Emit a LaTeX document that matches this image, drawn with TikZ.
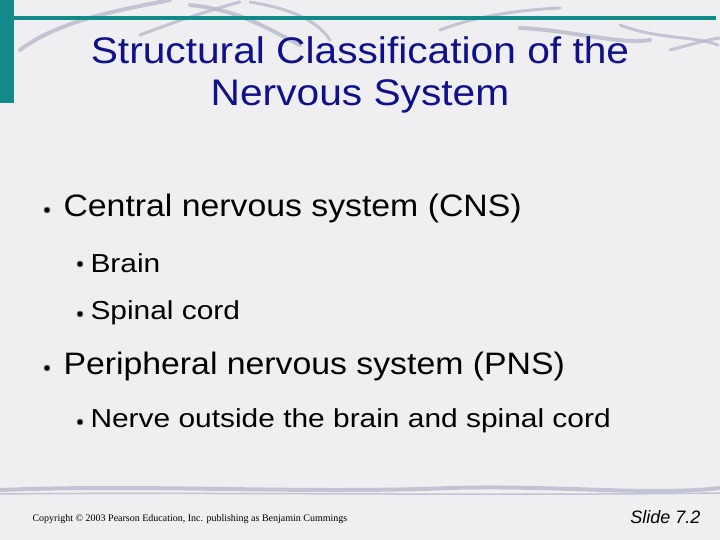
\documentclass[tikz,border=0pt]{standalone}
\usepackage{fontspec}
\setmainfont{Liberation Sans}
\newfontfamily\serifcr{Liberation Serif}
\definecolor{bg}{HTML}{EFEFF1}
\definecolor{teal}{HTML}{138A8A}
\definecolor{navy}{HTML}{10108A}
\definecolor{swoosh}{HTML}{B8BACC}
\newcommand{\wideA}[1]{\scalebox{1.09}[1]{#1}}
\newcommand{\wideB}[1]{\scalebox{1.15}[1]{#1}}
\tikzset{
  bul/.style={circle,fill=black,draw=gray,line width=0.8pt,inner sep=0pt,minimum size=6pt},
  lvl1/.style={anchor=west,font=\fontsize{31}{31}\selectfont},
  lvl2/.style={anchor=west,font=\fontsize{26}{26}\selectfont},
  ttl/.style={font=\fontsize{37}{37}\selectfont,text=navy}
}
\begin{document}
\begin{tikzpicture}[x=1pt,y=-1pt]
\fill[bg] (0,0) rectangle (720,540);
\useasboundingbox (0,0) rectangle (720,540);
% swooshes
\begin{scope}[swoosh,line cap=round,opacity=0.8]
\draw[line width=4] (20,50) .. controls (60,20) and (120,10) .. (170,0);
\draw[line width=3] (140,35) .. controls (180,20) and (210,10) .. (240,2);
\draw[line width=4] (190,5) .. controls (240,10) and (270,30) .. (300,45);
\draw[line width=3] (250,2) .. controls (300,10) and (320,25) .. (330,40);
\draw[line width=3] (440,30) .. controls (480,15) and (520,10) .. (560,8);
\draw[line width=4] (520,28) .. controls (570,30) and (620,45) .. (650,40);
\draw[line width=3] (620,25) .. controls (660,40) and (690,35) .. (718,45);
\draw[line width=3] (670,50) .. controls (690,45) and (705,40) .. (720,38);
\draw[line width=4] (0,490) .. controls (150,484) and (300,494) .. (450,488) .. controls (560,485) and (650,496) .. (720,488);
\draw[line width=1.5] (0,494) .. controls (200,492) and (500,496) .. (720,493);
\end{scope}
% teal bars
\fill[teal] (0,0) rectangle (14,103);
\fill[teal] (14,16) rectangle (716,20);
% title
\node[ttl] (t1) at (360,50) {\scalebox{1.1}[1]{Structural Classification of the}};
\node[ttl] (t2) at (360,96) {\scalebox{1.1}[1]{Nervous System}};
% bullets
\node[bul] (b1) at (47,210) {};
\node[lvl1] (l1) at (60,208) {\wideA{Central nervous system (CNS)}};
\node[bul] (b2) at (80,264) {};
\node[lvl2] (l2) at (87,263) {\wideB{Brain}};
\node[bul] (b3) at (80,314) {};
\node[lvl2] (l3) at (87,313) {\wideB{Spinal cord}};
\node[bul] (b4) at (47,368) {};
\node[lvl1] (l4) at (60,366) {\wideA{Peripheral nervous system (PNS)}};
\node[bul] (b5) at (80,422) {};
\node[lvl2] (l5) at (87,421) {\wideB{Nerve outside the brain and spinal cord}};
% footer
\node[anchor=west,font=\serifcr\fontsize{10}{10}\selectfont] (cp) at (29,519) {Copyright \textcopyright{} 2003 Pearson Education, Inc. publishing as Benjamin Cummings};
\node[anchor=east,font=\itshape\fontsize{18}{18}\selectfont] (sl) at (704,517) {Slide 7.2};
\end{tikzpicture}
\end{document}
